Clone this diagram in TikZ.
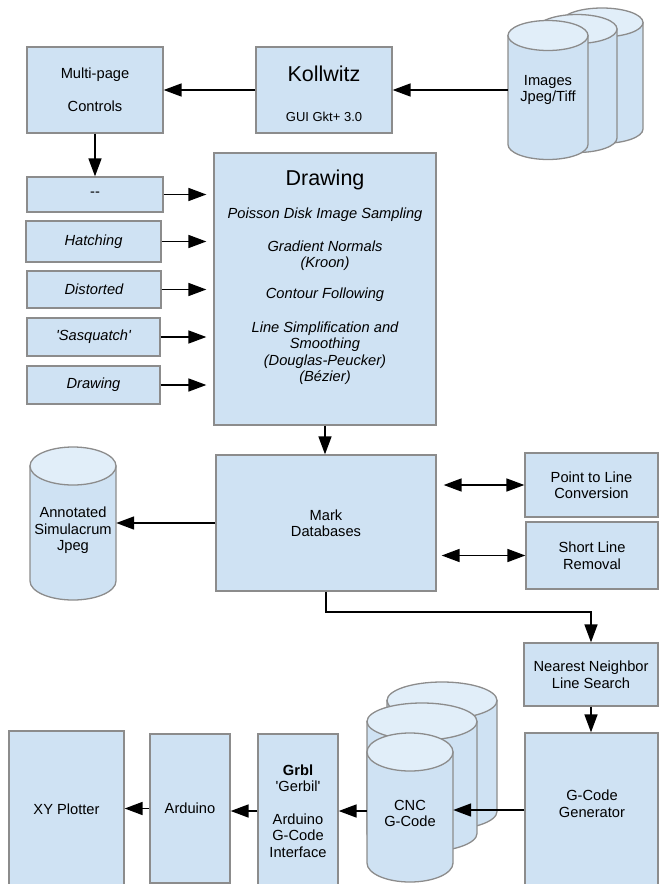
\documentclass[tikz,border=0pt]{standalone}
\usepackage{fontspec}
\setmainfont{Liberation Sans}
\usetikzlibrary{arrows.meta}
\definecolor{boxblue}{HTML}{CFE2F3}
\definecolor{topblue}{HTML}{E1EEF9}
\definecolor{edgegray}{HTML}{8C8C8C}
\newcommand\fs{\fontsize{14.67}{16.5}\selectfont}
\newcommand\cylshape[5]{%
  \path[cylbody] ({#1-#2},#3) -- ({#1-#2},#4) arc[start angle=180,end angle=360,x radius=#2pt,y radius=#5pt] -- ({#1+#2},#3) -- cycle;
  \path[cyltop] (#1,#3) ellipse[x radius=#2pt,y radius=#5pt];
}
\begin{document}
\begin{tikzpicture}[x=1pt,y=-1pt,
  box/.style={draw=edgegray, fill=boxblue, line width=1.3pt, inner sep=0pt, align=center, font=\fs},
  txt/.style={inner sep=0pt, align=center, font=\fs},
  cylnode/.style={inner sep=0pt, align=center, font=\fs, minimum height=10pt},
  arr/.style={line width=1.7pt, -{Triangle[length=18pt,width=13pt]}},
  darr/.style={line width=1.7pt, {Triangle[length=18pt,width=13pt]}-{Triangle[length=18pt,width=13pt]}},
  cylbody/.style={draw=edgegray, fill=boxblue, line width=1.3pt},
  cyltop/.style={draw=edgegray, fill=topblue, line width=1.3pt}]
\useasboundingbox (0,0) rectangle (659,884);
\clip (0,0) rectangle (659,884);

% ---- cylinders
\cylshape{602}{41}{22.5}{129}{14.5}
\cylshape{577}{40}{29}{138}{14.5}
\cylshape{548}{40}{35.5}{144.5}{15}
\cylshape{73}{43}{466}{581}{19}
\cylshape{442}{55}{700.5}{811.5}{18.5}
\cylshape{422}{55}{721.5}{833.5}{18.5}
\cylshape{410}{43}{752}{863}{19}

\node[cylnode, minimum width=80pt] (imgs) at (548,90) {Images\\Jpeg/Tiff};
\node[cylnode, minimum width=86pt] (annot) at (73,530.5) {Annotated\\Simulacrum\\Jpeg};
\node[cylnode, minimum width=86pt] (cnc) at (410,813.5) {CNC\\G-Code};

% ---- boxes
\node[box, minimum width=136pt, minimum height=86pt] (multi) at (95,90) {Multi-page\\[16pt]Controls};
\node[box, minimum width=136pt, minimum height=86pt] (kol) at (324,90) {};
\node[txt, font=\fontsize{21.5}{24}\selectfont] (koltitle) at (324,73.5) {Kollwitz};
\node[txt, font=\fontsize{13}{15}\selectfont] (kolsub) at (324,117) {GUI Gkt+ 3.0};

\node[box, minimum width=136pt, minimum height=35pt] (dash) at (95,194.5) {-{}-};
\node[box, minimum width=135pt, minimum height=41pt] (hatch) at (93.5,241.5) {\itshape Hatching};
\node[box, minimum width=134pt, minimum height=37pt] (dist) at (94,289.5) {\itshape Distorted};
\node[box, minimum width=133pt, minimum height=38pt] (sasq) at (93.5,337) {\itshape \textquotesingle Sasquatch\textquotesingle};
\node[box, minimum width=133pt, minimum height=38pt] (drawsm) at (93.5,385) {\itshape Drawing};

\node[box, minimum width=222pt, minimum height=272pt] (draw) at (325,289) {};
\node[txt, font=\fontsize{21.5}{24}\selectfont] (drawtitle) at (325,180) {Drawing};
\node[txt, font=\fs\itshape] (drawbody) at (325,296.5) {Poisson Disk Image Sampling\\[16pt]Gradient Normals\\(Kroon)\\[14.5pt]Contour Following\\[17pt]Line Simplification and\\Smoothing\\(Douglas-Peucker)\\(Bézier)};

\node[box, minimum width=220pt, minimum height=136pt] (mark) at (326,523) {Mark\\Databases};
\node[box, minimum width=133pt, minimum height=64pt] (point) at (591.5,485) {Point to Line\\Conversion};
\node[box, minimum width=132pt, minimum height=67pt] (short) at (592,555.5) {Short Line\\Removal};
\node[box, minimum width=134pt, minimum height=63pt] (nn) at (591,674.5) {Nearest Neighbor\\Line Search};
\node[box, minimum width=133pt, minimum height=154pt] (gcode) at (591.5,810) {};
\node[txt] (gcodetxt) at (592,803.5) {G-Code\\Generator};
\node[box, minimum width=80pt, minimum height=154pt] (grbl) at (298,811) {\textbf{Grbl}\\\textquotesingle Gerbil\textquotesingle\\[16pt]Arduino\\G-Code\\Interface};
\node[box, minimum width=80pt, minimum height=149pt] (ard) at (190,808.5) {Arduino};
\node[box, minimum width=115pt, minimum height=157pt] (xy) at (66.5,809.5) {XY Plotter};

% ---- connectors
\draw[arr] (imgs.west) -- (kol.east);
\draw[arr] (kol.west) -- (multi.east);
\draw[arr] (multi.south) -- (dash.north);
\foreach \n in {dash,hatch,dist,sasq,drawsm}
  \draw[arr, shorten >=7pt] (\n.east) -- (\n.east -| draw.west);
\draw[arr] (draw.south) -- (draw.south |- mark.north);
\draw[arr] (mark.west) -- (mark.west -| annot.east);
\draw[darr, shorten <=7pt] (point.west -| mark.east) -- (point.west);
\draw[darr, shorten <=5pt] (short.west -| mark.east) -- (short.west);
\draw[arr] (mark.south) -- ++(0,20) -| (nn.north);
\draw[arr] (nn.south) -- (nn.south |- gcode.north);
\draw[arr] (gcode.west) -- (gcode.west -| cnc.east);
\draw[arr] (grbl.east -| cnc.west) -- (grbl.east);
\draw[arr] (grbl.west) -- (grbl.west -| ard.east);
\draw[arr] (ard.west) -- (ard.west -| xy.east);
\end{tikzpicture}
\end{document}
